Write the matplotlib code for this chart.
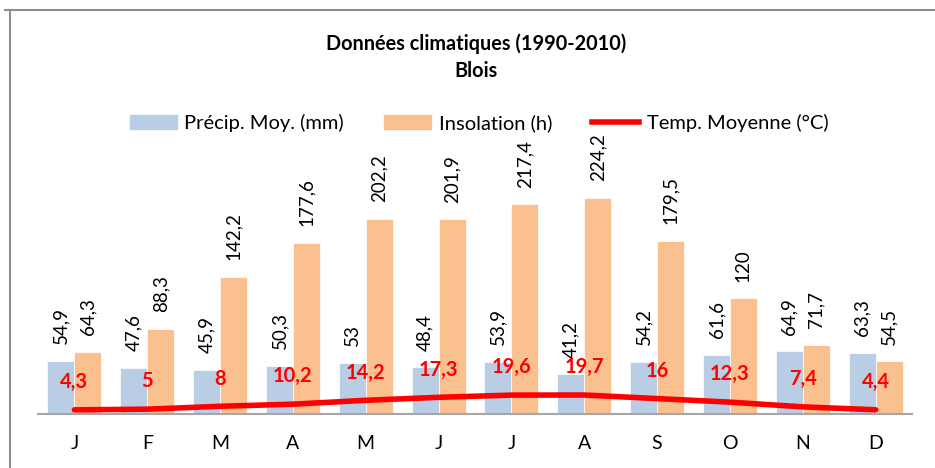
import matplotlib
matplotlib.use("Agg")
import matplotlib.pyplot as plt
from matplotlib.lines import Line2D
from matplotlib.patches import Patch
import numpy as np

# ===== data =====
months = ["J", "F", "M", "A", "M", "J", "J", "A", "S", "O", "N", "D"]
precip = [54.9, 47.6, 45.9, 50.3, 53, 48.4, 53.9, 41.2, 54.2, 61.6, 64.9, 63.3]
insol = [64.3, 88.3, 142.2, 177.6, 202.2, 201.9, 217.4, 224.2, 179.5, 120, 71.7, 54.5]
temp = [4.3, 5, 8, 10.2, 14.2, 17.3, 19.6, 19.7, 16, 12.3, 7.4, 4.4]

def fr(v):
    # french decimal comma
    s = ("%g" % v)
    return s.replace(".", ",")

plt.rcParams["font.family"] = ["Lato", "DejaVu Sans"]

blue = "#B9CDE5"
orange = "#FAC090"
red = "#FF0000"

W, H = 935, 468
fig = plt.figure(figsize=(W / 100, H / 100), dpi=100)
ax = fig.add_axes([38 / W, 1 - 414 / H, (912 - 38) / W, (414 - 173) / H])

x = np.arange(len(months))
bw = 0.37
ax.bar(x - bw / 2, precip, bw, color=blue, edgecolor="white", linewidth=0.5)
ax.bar(x + bw / 2, insol, bw, color=orange, edgecolor="white", linewidth=0.5)
ax.plot(x, temp, color=red, lw=4, solid_capstyle="round", solid_joinstyle="round")

for xi, v in zip(x - bw / 2, precip):
    ax.annotate(fr(v), (xi, v), xytext=(0, 12), textcoords="offset points",
                rotation=90, ha="center", va="bottom", fontsize=13.5, annotation_clip=False)
for xi, v in zip(x + bw / 2, insol):
    ax.annotate(fr(v), (xi, v), xytext=(0, 12), textcoords="offset points",
                rotation=90, ha="center", va="bottom", fontsize=13.5, annotation_clip=False)
for xi, v in zip(x, temp):
    ax.annotate(fr(v), (xi, v), xytext=(0, 20), textcoords="offset points",
                ha="center", va="center", fontsize=14.5, fontweight="bold", color=red)

ax.set_xlim(-0.5, len(months) - 0.5)
ax.set_ylim(0, 250)
ax.set_xticks(x)
ax.set_xticklabels(months, fontsize=14)
ax.tick_params(axis="x", length=0, pad=15)
ax.set_yticks([])
for s in ["top", "right", "left"]:
    ax.spines[s].set_visible(False)
ax.spines["bottom"].set_color("#A6A6A6")
ax.spines["bottom"].set_linewidth(1.5)

fig.text(476 / W, 1 - 44 / H, "Données climatiques (1990-2010)", ha="center", va="center",
         fontsize=14.3, fontweight="bold")
fig.text(476 / W, 1 - 71 / H, "Blois", ha="center", va="center", fontsize=14.3, fontweight="bold")

handles = [Patch(color=blue), Patch(color=orange), Line2D([], [], color=red, lw=4)]
labels = ["Précip. Moy. (mm)", "Insolation (h)", "Temp. Moyenne (°C)"]
fig.legend(handles, labels, loc="center", bbox_to_anchor=(479 / W, 1 - 123 / H), ncol=3,
           frameon=False, fontsize=14.5, handlelength=2.35, handletextpad=0.35,
           columnspacing=2.0, borderpad=0)

# chart frame (left and top edges visible)
fig.add_artist(Line2D([5 / W, 1], [1 - 10 / H, 1 - 10 / H], color="#8C8C8C", lw=1.5))
fig.add_artist(Line2D([10 / W, 10 / W], [0, 1 - 10 / H], color="#8C8C8C", lw=1.5))

fig.savefig("out.png", dpi=100)
